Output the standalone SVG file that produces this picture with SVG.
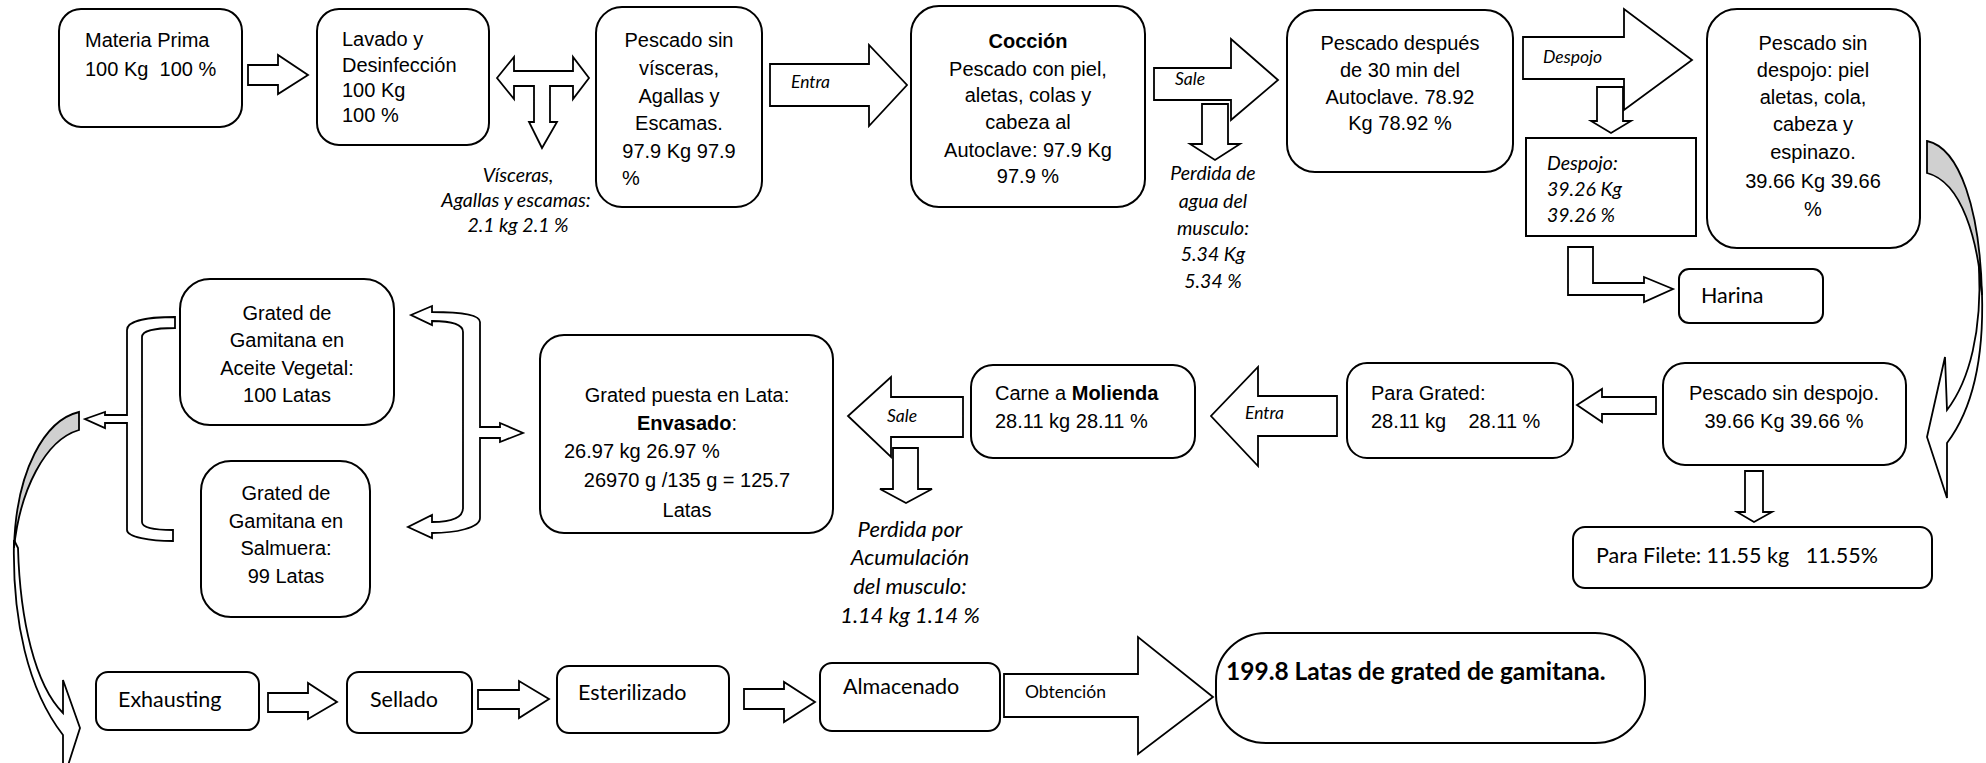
<svg xmlns="http://www.w3.org/2000/svg" width="1986" height="763" viewBox="0 0 1986 763">
<style>
.box{fill:#fff;stroke:#000;stroke-width:2}
.arr{fill:#fff;stroke:#000;stroke-width:1.8;stroke-linejoin:miter}
.gray{fill:#d0d0d0;stroke:#000;stroke-width:1.8}
.a{font-family:"Liberation Sans",Arial,sans-serif;font-size:20px;fill:#000}
.m{text-anchor:middle}
.b{font-weight:bold}
.l{font-family:Lato,"Open Sans",sans-serif;fill:#000}
.i{font-style:italic}
.s21{font-size:21.5px}
.s19{font-size:19.5px}
.s17{font-size:17.5px}
.s22{font-size:22px}
.s24{font-size:24.5px}
</style>
<rect width="1986" height="763" fill="#fff"/>

<g id="connectors">
  <!-- Materia -> Lavado -->
  <polygon class="arr" points="248,65 278,65 278,55 308,75 278,94 278,85 248,85"/>
  <!-- T arrow -->
  <polygon class="arr" points="497,78 514,57 514,71 573,71 573,57 589,78 573,99 573,86 550,86 550,122 557,122 542,148 529,122 534,122 534,86 514,86 514,99"/>
  <!-- Entra -->
  <polygon class="arr" points="770,64 869,64 869,45 907,85 869,126 869,106 770,106"/>
  <!-- Sale top -->
  <polygon class="arr" points="1154,68 1231,68 1231,39 1278,80 1231,120 1231,100 1154,100"/>
  <polygon class="arr" points="1202,104 1228,104 1228,144 1240,144 1215,160 1190,144 1202,144"/>
  <!-- Despojo -->
  <polygon class="arr" points="1523,37 1624,37 1624,9 1692,60 1624,110 1624,79 1523,79"/>
  <polygon class="arr" points="1597,87 1623,87 1623,121 1631,121 1611,133 1591,121 1597,121"/>
  <!-- L arrow to Harina -->
  <polygon class="arr" points="1568,247 1593,247 1593,283 1644,283 1644,277 1673,289 1644,302 1644,295 1568,295"/>
  <!-- right curved arrow -->
  <path class="arr" d="M1982,293 C1984,360 1972,410 1947,443 L1947,498 L1927,437 L1945,357 L1947,410 C1970,380 1982,330 1979,267 Z"/>
  <path class="gray" d="M1927,141 C1960,148 1980,210 1982,295 C1978,240 1962,182 1927,173 Z"/>
  <!-- Pescado sin despojo -> Para Grated -->
  <polygon class="arr" points="1656,397 1602,397 1602,389 1577,405 1602,422 1602,414 1656,414"/>
  <!-- down to Para Filete -->
  <polygon class="arr" points="1745,471 1763,471 1763,512 1772,512 1754,522 1737,512 1745,512"/>
  <!-- Entra left -->
  <polygon class="arr" points="1337,396 1258,396 1258,367 1211,416 1258,466 1258,436 1337,436"/>
  <!-- Sale left -->
  <polygon class="arr" points="963,397 891,397 891,377 848,416 891,457 891,437 963,437"/>
  <polygon class="arr" points="893,448 918,448 918,489 932,489 906,503 880,489 893,489"/>
  <!-- right bracket arrow -->
  <path class="arr" d="M411,315 L432,306 L432,312 C455,312 480,314 480,322 L480,427 L500,427 L500,423 L523,433 L500,442 L500,438 L480,438 L480,518 C480,528 455,533 432,533 L432,538 L408,527 L432,515 L432,522 C450,522 463,518 463,508 L463,332 C463,324 450,321 432,321 L432,325 Z"/>
  <!-- left bracket arrow -->
  <path class="arr" d="M175,317 C150,317 127,320 127,330 L127,415 L105,415 L105,412 L85,419 L105,428 L105,423 L127,423 L127,530 C127,537 150,541 173,541 L173,530 C155,530 142,528 142,522 L142,337 C142,331 155,328 175,328 Z"/>
  <!-- left curved arrow -->
  <path class="arr" d="M14,540 C12,620 28,690 63,735 L63,781 L80,728 L63,680 L63,713 C35,685 20,620 18,548 Z"/>
  <path class="gray" d="M79,412 C45,420 16,470 14,548 C20,490 45,440 79,430 Z"/>
  <!-- bottom row -->
  <polygon class="arr" points="268,693 308,693 308,683 337,702 308,719 308,712 268,712"/>
  <polygon class="arr" points="478,690 519,690 519,681 549,699 519,718 519,709 478,709"/>
  <polygon class="arr" points="744,689 784,689 784,682 815,702 784,722 784,709 744,709"/>
  <polygon class="arr" points="1004,674 1138,674 1138,637 1213,697 1138,754 1138,717 1004,717"/>
  <!-- arrow labels -->
  <text class="l i s17" x="791" y="88">Entra</text>
  <text class="l i s17" x="1175" y="85">Sale</text>
  <text class="l i s17" x="1543" y="63">Despojo</text>
  <text class="l i s17" x="1245" y="419">Entra</text>
  <text class="l i s17" x="887" y="422">Sale</text>
  <text class="l s17" x="1025" y="698">Obtención</text>
  <text class="l i s19 m"><tspan x="518" y="182">Vísceras,</tspan><tspan x="516" y="207">Agallas y escamas:</tspan><tspan x="518" y="232">2.1 kg 2.1 %</tspan></text>
  <text class="l i s19 m"><tspan x="1213" y="180">Perdida de</tspan><tspan x="1213" y="208">agua del</tspan><tspan x="1213" y="235">musculo:</tspan><tspan x="1213" y="261">5.34 Kg</tspan><tspan x="1213" y="288">5.34 %</tspan></text>
  <text class="l i s22 m"><tspan x="910" y="537">Perdida por</tspan><tspan x="910" y="565">Acumulación</tspan><tspan x="910" y="594">del musculo:</tspan><tspan x="910" y="623">1.14 kg 1.14 %</tspan></text>
</g>

<g id="materia-prima">
  <rect class="box" x="59" y="9" width="183" height="118" rx="22"/>
  <text class="a" xml:space="preserve"><tspan x="85" y="47">Materia Prima</tspan><tspan x="85" y="76">100 Kg  100 %</tspan></text>
</g>
<g id="lavado">
  <rect class="box" x="317" y="9" width="172" height="136" rx="22"/>
  <text class="a"><tspan x="342" y="46">Lavado y</tspan><tspan x="342" y="72">Desinfección</tspan><tspan x="342" y="97">100 Kg</tspan><tspan x="342" y="122">100 %</tspan></text>
</g>
<g id="pescado-sin-visceras">
  <rect class="box" x="596" y="7" width="166" height="200" rx="26"/>
  <text class="a m"><tspan x="679" y="47">Pescado sin</tspan><tspan x="679" y="75">vísceras,</tspan><tspan x="679" y="103">Agallas y</tspan><tspan x="679" y="130">Escamas.</tspan><tspan x="679" y="158">97.9 Kg 97.9</tspan></text>
  <text class="a" x="622" y="185">%</text>
</g>
<g id="coccion">
  <rect class="box" x="911" y="6" width="234" height="201" rx="28"/>
  <text class="a m"><tspan class="b" x="1028" y="48">Cocción</tspan><tspan x="1028" y="76">Pescado con piel,</tspan><tspan x="1028" y="102">aletas, colas y</tspan><tspan x="1028" y="129">cabeza al</tspan><tspan x="1028" y="157">Autoclave: 97.9 Kg</tspan><tspan x="1028" y="183">97.9 %</tspan></text>
</g>
<g id="pescado-despues">
  <rect class="box" x="1287" y="10" width="226" height="162" rx="28"/>
  <text class="a m"><tspan x="1400" y="50">Pescado después</tspan><tspan x="1400" y="77">de 30 min del</tspan><tspan x="1400" y="104">Autoclave. 78.92</tspan><tspan x="1400" y="130">Kg 78.92 %</tspan></text>
</g>
<g id="despojo">
  <rect class="box" x="1526" y="138" width="170" height="98"/>
  <text class="l i s19"><tspan x="1547" y="170">Despojo:</tspan><tspan x="1547" y="196">39.26 Kg</tspan><tspan x="1547" y="222">39.26 %</tspan></text>
</g>
<g id="harina">
  <rect class="box" x="1679" y="269" width="144" height="54" rx="10"/>
  <text class="l s21" x="1701" y="303">Harina</text>
</g>
<g id="pescado-sin-despojo-piel">
  <rect class="box" x="1707" y="9" width="213" height="239" rx="30"/>
  <text class="a m"><tspan x="1813" y="50">Pescado sin</tspan><tspan x="1813" y="77">despojo: piel</tspan><tspan x="1813" y="104">aletas, cola,</tspan><tspan x="1813" y="131">cabeza y</tspan><tspan x="1813" y="159">espinazo.</tspan><tspan x="1813" y="188">39.66 Kg 39.66</tspan><tspan x="1813" y="216">%</tspan></text>
</g>
<g id="pescado-sin-despojo">
  <rect class="box" x="1663" y="363" width="243" height="102" rx="22"/>
  <text class="a m"><tspan x="1784" y="400">Pescado sin despojo.</tspan><tspan x="1784" y="428">39.66 Kg 39.66 %</tspan></text>
</g>
<g id="para-filete">
  <rect class="box" x="1573" y="527" width="359" height="61" rx="12"/>
  <text class="l s21" x="1596" y="563" xml:space="preserve">Para Filete: 11.55 kg   11.55%</text>
</g>
<g id="para-grated">
  <rect class="box" x="1347" y="363" width="226" height="95" rx="20"/>
  <text class="a" xml:space="preserve"><tspan x="1371" y="400">Para Grated:</tspan><tspan x="1371" y="428">28.11 kg    28.11 %</tspan></text>
</g>
<g id="carne-molienda">
  <rect class="box" x="971" y="365" width="224" height="93" rx="22"/>
  <text class="a"><tspan x="995" y="400">Carne a <tspan class="b">Molienda</tspan></tspan><tspan x="995" y="428">28.11 kg 28.11 %</tspan></text>
</g>
<g id="envasado">
  <rect class="box" x="540" y="335" width="293" height="198" rx="24"/>
  <text class="a m"><tspan x="687" y="402">Grated puesta en Lata:</tspan><tspan x="687" y="430"><tspan class="b">Envasado</tspan>:</tspan></text>
  <text class="a" x="564" y="458">26.97 kg 26.97 %</text>
  <text class="a m"><tspan x="687" y="487">26970 g /135 g = 125.7</tspan><tspan x="687" y="517">Latas</tspan></text>
</g>
<g id="grated-aceite">
  <rect class="box" x="180" y="279" width="214" height="146" rx="30"/>
  <text class="a m"><tspan x="287" y="320">Grated de</tspan><tspan x="287" y="347">Gamitana en</tspan><tspan x="287" y="375">Aceite Vegetal:</tspan><tspan x="287" y="402">100 Latas</tspan></text>
</g>
<g id="grated-salmuera">
  <rect class="box" x="201" y="461" width="169" height="156" rx="30"/>
  <text class="a m"><tspan x="286" y="500">Grated de</tspan><tspan x="286" y="528">Gamitana en</tspan><tspan x="286" y="555">Salmuera:</tspan><tspan x="286" y="583">99 Latas</tspan></text>
</g>
<g id="exhausting">
  <rect class="box" x="96" y="672" width="163" height="58" rx="12"/>
  <text class="l s21" x="118" y="707">Exhausting</text>
</g>
<g id="sellado">
  <rect class="box" x="347" y="672" width="125" height="61" rx="12"/>
  <text class="l s21" x="370" y="707">Sellado</text>
</g>
<g id="esterilizado">
  <rect class="box" x="557" y="666" width="172" height="67" rx="12"/>
  <text class="l s21" x="578" y="700">Esterilizado</text>
</g>
<g id="almacenado">
  <rect class="box" x="820" y="663" width="180" height="68" rx="12"/>
  <text class="l s21" x="843" y="694">Almacenado</text>
</g>
<g id="resultado">
  <rect class="box" x="1216" y="633" width="429" height="110" rx="50" ry="48"/>
  <text class="l b s24" x="1226" y="680">199.8 Latas de grated de gamitana.</text>
</g>
</svg>
